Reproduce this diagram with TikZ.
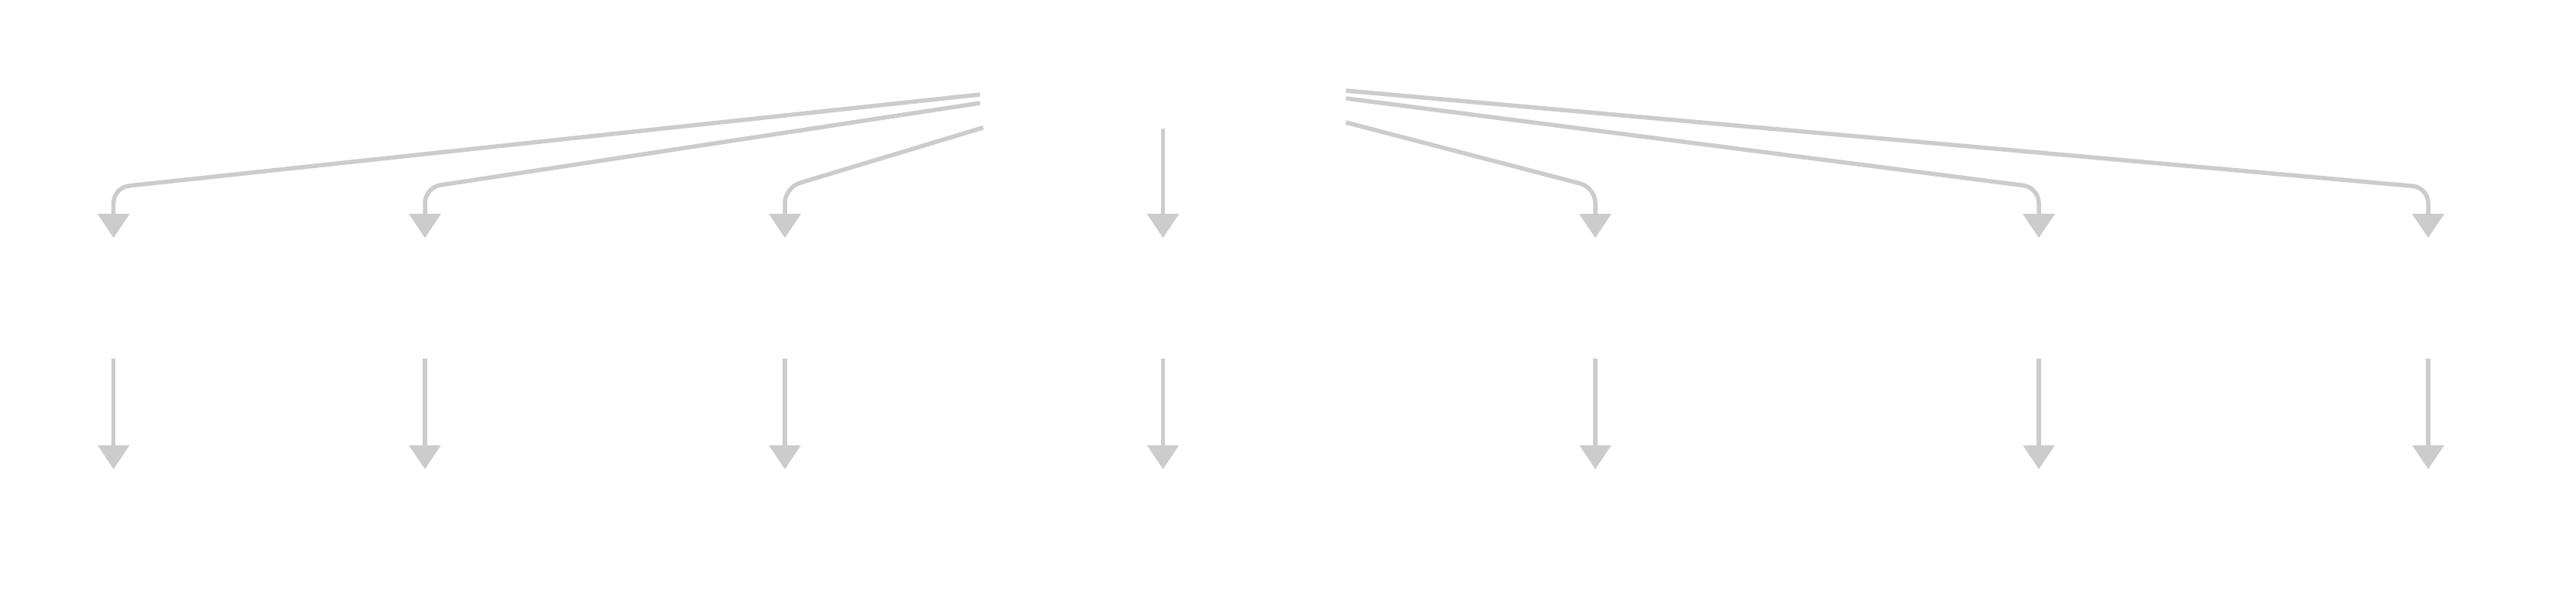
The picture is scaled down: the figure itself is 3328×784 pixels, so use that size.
\documentclass[tikz,border=0pt]{standalone}
\usetikzlibrary{positioning}
\usetikzlibrary{arrows.meta}
\definecolor{linkgrey}{HTML}{CCCCCC}

\begin{document}
\begin{tikzpicture}[x=0.01cm, y=-0.01cm]
  \tikzstyle{box}=[rectangle, minimum width = 20mm, minimum height = 15.4mm, inner sep = 0pt]
  \tikzstyle{connect}=[-{Triangle[length = 3.1mm, width = 4mm]}, line width = 0.55mm, draw = linkgrey, rounded corners = 2mm]

  \useasboundingbox (0,0) rectangle (3328,784);

  \node[box, minimum width = 47.1mm] (root) at (1502.5,88) { };

  \node[box] (m1) at (146.7,385) { };
  \node[box] (m2) at (549,385) { };
  \node[box] (m3) at (1014,385) { };
  \node[box] (m4) at (1502.5,385) { };
  \node[box] (m5) at (2061,385) { };
  \node[box] (m6) at (2634,385) { };
  \node[box] (m7) at (3137,385) { };

  \node[box] (b1) [below = 14.3mm of m1] { };
  \node[box] (b2) [below = 14.3mm of m2] { };
  \node[box] (b3) [below = 14.3mm of m3] { };
  \node[box] (b4) [below = 14.3mm of m4] { };
  \node[box] (b5) [below = 14.3mm of m5] { };
  \node[box] (b6) [below = 14.3mm of m6] { };
  \node[box] (b7) [below = 14.3mm of m7] { };

  \coordinate (bend) at (0,242);

  \draw[connect] ([yshift = -3.4mm]root.west) -- (m1.north |- bend) -- (m1.north);
  \draw[connect] ([yshift = -4.5mm]root.west) -- (m2.north |- bend) -- (m2.north);
  \draw[connect] ([xshift = 0.4mm, yshift = 0.1mm]root.south west) -- (m3.north |- bend) -- (m3.north);
  \path (root) edge [connect] (m4);
  \draw[connect] ([yshift = -7.0mm]root.east) -- (m5.north |- bend) -- (m5.north);
  \draw[connect] ([yshift = -3.9mm]root.east) -- (m6.north |- bend) -- (m6.north);
  \draw[connect] ([yshift = -2.9mm]root.east) -- (m7.north |- bend) -- (m7.north);

  \path (m1) edge [connect] (b1)
        (m2) edge [connect] (b2)
        (m3) edge [connect] (b3)
        (m4) edge [connect] (b4)
        (m5) edge [connect] (b5)
        (m6) edge [connect] (b6)
        (m7) edge [connect] (b7);

\end{tikzpicture}
\end{document}
